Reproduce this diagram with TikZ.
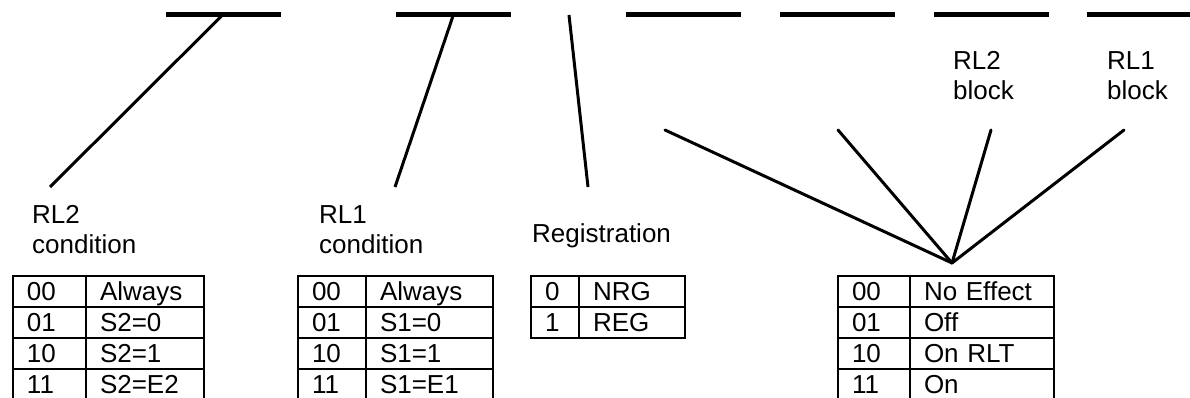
\documentclass[tikz,border=0pt]{standalone}
\usepackage{fontspec}
\setmainfont{Liberation Sans}
\begin{document}
\begin{tikzpicture}[x=1pt,y=-1pt,
  bar/.style={fill=black, draw=none, inner sep=0, minimum width=115, minimum height=4.5},
  lead/.style={line width=3},
  lbl/.style={anchor=base west, inner sep=0, align=left, font=\fontsize{26}{30}\selectfont},
  cell/.style={draw, line width=2, anchor=north west, minimum height=31, inner ysep=0,
    inner xsep=14, text height=20, text depth=3, align=left, font=\fontsize{26}{30}\selectfont}]
\useasboundingbox (0,0) rectangle (1190,398);

% field bars along the top
\node[bar] (b1) at (223,14.5) {};
\node[bar] (b2) at (453.5,14.5) {};
\node[bar] (b3) at (683.5,14.5) {};
\node[bar] (b4) at (837.5,14.5) {};
\node[bar] (b5) at (991,14.5) {};
\node[bar] (b6) at (1144.5,14.5) {};

% labels (anchored on the baseline of their last line)
\node[lbl] (c2) at (32,253) {RL2\\condition};
\node[lbl] (c1) at (319,253) {RL1\\condition};
\node[lbl] (rg) at (532,242) {Registration};
\node[lbl] (k2) at (953,100) {RL2\\block};
\node[lbl] (k1) at (1107,100) {RL1\\block};

% leader lines
\coordinate (e1) at (50,187);
\coordinate (e2) at (395,187);
\coordinate (r0) at (569,15);
\coordinate (r1) at (588,187);
\draw[lead] (b1.center) -- (e1);
\draw[lead] (b2.center) -- (e2);
\draw[lead] (r0) -- (r1);

\coordinate (fan) at (952,263);
\coordinate (fa) at (665,130);
\coordinate (fb) at (838,130);
\coordinate (fc) at (991,130);
\coordinate (fd) at (1124,130);
\foreach \p in {fa,fb,fc,fd}
  \draw[lead, line cap=round] (fan) -- (\p);

% value tables
\foreach \k/\v [count=\i from 0] in {00/Always,01/S2=0,10/S2=1,11/S2=E2} {
  \node[cell,text width=45] (t1k\i) at (12,275+31*\i) {\k};
  \node[cell,text width=90] (t1v\i) at (85,275+31*\i) {\v};
}
\foreach \k/\v [count=\i from 0] in {00/Always,01/S1=0,10/S1=1,11/S1=E1} {
  \node[cell,text width=40] (t2k\i) at (297,275+31*\i) {\k};
  \node[cell,text width=99] (t2v\i) at (365,275+31*\i) {\v};
}
\foreach \k/\v [count=\i from 0] in {0/NRG,1/REG} {
  \node[cell,text width=20] (t3k\i) at (530,275+31*\i) {\k};
  \node[cell,text width=78] (t3v\i) at (578,275+31*\i) {\v};
}
\foreach \k/\v [count=\i from 0] in {00/No Effect,01/Off,10/On RLT,11/On} {
  \node[cell,text width=44] (t4k\i) at (837,275+31*\i) {\k};
  \node[cell,text width=116] (t4v\i) at (909,275+31*\i) {\v};
}
\end{tikzpicture}
\end{document}
